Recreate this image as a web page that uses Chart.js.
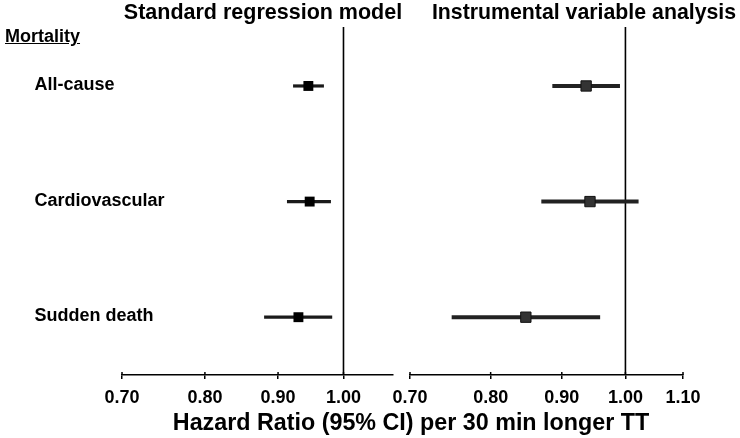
<!DOCTYPE html>
<html><head><meta charset="utf-8">
<script src="https://cdn.jsdelivr.net/npm/chart.js@4.4.1/dist/chart.umd.min.js"></script>
<style>
html,body{margin:0;padding:0;background:#fff;}
#wrap{position:relative;width:740px;height:438px;overflow:hidden;background:#fff;font-family:'Liberation Sans',Arial,sans-serif;font-weight:bold;color:#000;}
.t{position:absolute;white-space:nowrap;}
.c{transform:translateX(-50%);}
canvas{position:absolute;top:0;}
</style></head><body>
<div id="wrap">
<canvas id="c1" width="400" height="438" style="left:0px;width:400px;height:438px"></canvas>
<canvas id="c2" width="370" height="438" style="left:370px;width:370px;height:438px"></canvas>
<div class="t c" style="left:263px;top:2px;font-size:21.5px;line-height:21px">Standard regression model</div>
<div class="t c" style="left:584px;top:2px;font-size:21.3px;line-height:21px">Instrumental variable analysis</div>
<div class="t" style="left:5px;top:27px;font-size:18px;line-height:18px;text-decoration:underline">Mortality</div>
<div class="t c" style="left:411px;top:411px;font-size:23.3px;line-height:23px">Hazard Ratio (95% CI) per 30 min longer TT</div>
</div>
<script>
const outcomes = ['All-cause', 'Cardiovascular', 'Sudden death'];
const rowPos = [1, 2, 3];
const stdHR = [0.945, 0.947, 0.930];
const stdLo = [0.922, 0.913, 0.880];
const stdHi = [0.969, 0.980, 0.982];
const ivHR = [0.937, 0.943, 0.848];
const ivLo = [0.886, 0.870, 0.750];
const ivHi = [0.991, 1.022, 0.959];
const leftTicks = [0.70, 0.80, 0.90, 1.00];
const rightTicks = [0.70, 0.80, 0.90, 1.00, 1.10];
const refValue = 1.0;

const FONT = "'Liberation Sans', Arial, sans-serif";
const Y_MIN = 0.49, Y_MAX = 3.5;

const crossTicks = {
  id: 'crossTicks',
  afterDraw(chart) {
    const s = chart.scales.x, ctx = chart.ctx;
    ctx.save();
    ctx.strokeStyle = '#000';
    ctx.lineWidth = 1.5;
    s.ticks.forEach(t => {
      const px = s.getPixelForValue(t.value);
      ctx.beginPath();
      ctx.moveTo(px, s.top - 3);
      ctx.lineTo(px, s.top);
      ctx.stroke();
    });
    ctx.restore();
  }
};

const rowLabels = {
  id: 'rowLabels',
  afterDraw(chart) {
    const y = chart.scales.y, ctx = chart.ctx;
    ctx.save();
    ctx.fillStyle = '#000';
    ctx.font = 'bold 18px ' + FONT;
    ctx.textAlign = 'left';
    ctx.textBaseline = 'middle';
    outcomes.forEach((name, i) => {
      ctx.fillText(name, 34.5, y.getPixelForValue(rowPos[i]) - 1);
    });
    ctx.restore();
  }
};

function makePanel(id, hr, lo, hi, ticks, xMax, pad, style, extraPlugins) {
  const datasets = [];
  lo.forEach((l, i) => {
    datasets.push({
      type: 'line',
      data: [{x: l, y: rowPos[i]}, {x: hi[i], y: rowPos[i]}],
      borderColor: style.ci, borderWidth: style.ciWidth,
      pointRadius: 0, order: 2
    });
  });
  datasets.push({
    type: 'line',
    data: [{x: refValue, y: Y_MIN}, {x: refValue, y: Y_MAX}],
    borderColor: '#000', borderWidth: 1.6, pointRadius: 0, order: 3
  });
  datasets.push({
    type: 'scatter',
    data: hr.map((v, i) => ({x: v, y: rowPos[i]})),
    pointStyle: 'rect', pointRadius: style.r,
    backgroundColor: style.fill, borderColor: style.border, borderWidth: style.bw,
    order: 0
  });
  return new Chart(document.getElementById(id), {
    type: 'scatter',
    data: {datasets},
    options: {
      responsive: false, animation: false, devicePixelRatio: 1,
      layout: {padding: pad},
      plugins: {legend: {display: false}, tooltip: {enabled: false}},
      elements: {line: {tension: 0}},
      scales: {
        x: {
          type: 'logarithmic', min: 0.7, max: xMax,
          afterBuildTicks: s => { s.ticks = ticks.map(v => ({value: v})); },
          afterFit: s => { s.height = 30; s.paddingLeft = 0; s.paddingRight = 0; },
          grid: {drawOnChartArea: false, drawTicks: true, tickLength: 4, color: '#000', lineWidth: 1.5},
          border: {display: true, color: '#000', width: 1.5},
          ticks: {
            color: '#000', padding: 8, maxRotation: 0, autoSkip: false,
            font: {family: FONT, size: 18, weight: 'bold'},
            callback: v => Number(v).toFixed(2)
          }
        },
        y: {type: 'linear', reverse: true, min: Y_MIN, max: Y_MAX, display: false}
      }
    },
    plugins: [crossTicks].concat(extraPlugins)
  });
}

makePanel('c1', stdHR, stdLo, stdHi, leftTicks, 1.083,
  {left: 122, right: 2, top: 27, bottom: 33},
  {ci: '#1a1a1a', ciWidth: 3.2, r: 7, fill: '#000', border: '#000', bw: 0}, [rowLabels]);
makePanel('c2', ivHR, ivLo, ivHi, rightTicks, 1.10,
  {left: 40, right: 57, top: 27, bottom: 33},
  {ci: '#222', ciWidth: 4, r: 7.3, fill: '#333', border: '#111', bw: 1}, []);
</script>
</body></html>
